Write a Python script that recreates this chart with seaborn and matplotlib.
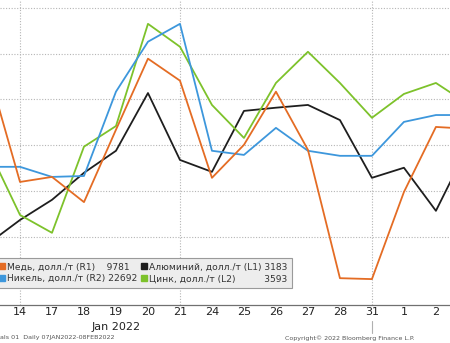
import matplotlib
matplotlib.use("Agg")
import matplotlib.pyplot as plt
import matplotlib.transforms as mtransforms
from matplotlib.lines import Line2D
import seaborn as sns
import pandas as pd
import numpy as np

# ---- data (grid units) ----
day_labels = ['13', '14', '17', '18', '19', '20', '21', '24', '25', '26',
              '27', '28', '31', '1', '2', '3']
copper   = [4.65, 2.20, 2.31, 1.76, 3.34, 4.89, 4.41, 2.29, 3.01, 4.17, 2.90, 0.10, 0.08, 1.98, 3.40, 3.36]
nickel   = [2.53, 2.53, 2.31, 2.33, 4.17, 5.26, 5.65, 2.88, 2.79, 3.38, 2.88, 2.77, 2.77, 3.51, 3.66, 3.66]
zinc     = [2.94, 1.48, 1.09, 2.97, 3.42, 5.65, 5.15, 3.88, 3.16, 4.36, 5.04, 4.36, 3.60, 4.12, 4.36, 3.90]
aluminum = [0.85, 1.37, 1.81, 2.40, 2.88, 4.14, 2.68, 2.42, 3.75, 3.82, 3.88, 3.55, 2.29, 2.51, 1.57, 2.97]

visible_days = ['14', '17', '18', '19', '20', '21', '24', '25', '26', '27', '28', '31', '1', '2']
series_names = ['Медь', 'Никель', 'Алюминий', 'Цинк']
legend_labels = ['Медь, долл./т (R1)    9781',
                 'Никель, долл./т (R2) 22692',
                 'Алюминий, долл./т (L1) 3183',
                 'Цинк, долл./т (L2)          3593']
grid_days = ['14', '21', '31']
month_label = 'Jan 2022'
footer_left = 'als 01  Daily 07JAN2022-08FEB2022'
footer_right = 'Copyright© 2022 Bloomberg Finance L.P.'

colors = {'Медь': '#E46C24', 'Никель': '#3D97DC', 'Алюминий': '#1E1E1E', 'Цинк': '#7DC22B'}

sns.set_theme(style='white')
plt.rcParams['font.family'] = ['DejaVu Sans']

rows = []
for name, vals in zip(series_names, [copper, nickel, aluminum, zinc]):
    for i, v in enumerate(vals):
        rows.append({'pos': i, 'value': v, 'metal': name})
df = pd.DataFrame(rows)

fig = plt.figure(figsize=(4.5, 3.43), dpi=100)
ax = fig.add_axes([0, 38 / 343, 1, 305 / 343])

sns.lineplot(data=df, x='pos', y='value', hue='metal', palette=colors,
             hue_order=['Алюминий', 'Цинк', 'Никель', 'Медь'],
             linewidth=1.3, legend=False, ax=ax, sort=False)

tick_pos = [day_labels.index(d) for d in visible_days]
ax.set_xticks(tick_pos)
ax.set_xticklabels(visible_days, fontsize=8, color='#222222')
ax.tick_params(axis='x', length=0, pad=1.5)
ax.set_yticks([1, 2, 3, 4, 5, 6])
ax.set_yticklabels([])
ax.tick_params(axis='y', length=0)
ax.set_xlim(0.375, 14.44)
ax.set_ylim(-0.485, 6.17)
ax.grid(axis='y', linestyle=(0, (1, 1.5)), color='#b5b5b5', linewidth=0.8)
for d in grid_days:
    ax.axvline(day_labels.index(d), linestyle=(0, (1, 1.5)), color='#b5b5b5',
               linewidth=0.8, zorder=0)
ax.set_xlabel('')
ax.set_ylabel('')
for s in ['top', 'left', 'right']:
    ax.spines[s].set_visible(False)
ax.spines['bottom'].set_color('#707070')
ax.spines['bottom'].set_linewidth(0.9)

# month label and month separator
trans = mtransforms.blended_transform_factory(ax.transData, fig.transFigure)
ax.text(day_labels.index('19'), 1 - 327 / 343, month_label, transform=trans,
        ha='center', va='center', fontsize=8, color='#222222')
ax.add_line(Line2D([day_labels.index('31')] * 2, [1 - 321 / 343, 1 - 333 / 343],
                   transform=trans, color='#b0b0b0', linewidth=0.8, clip_on=False))

# legend
handles = [Line2D([], [], linestyle='none', marker='s', markersize=4.5,
                  markerfacecolor=colors[n], markeredgecolor=colors[n])
           for n in series_names]
leg = fig.legend(handles, legend_labels, ncol=2, loc='upper left',
                 bbox_to_anchor=(-0.012, 1 - 258 / 343), borderaxespad=0,
                 fontsize=6.6, frameon=True, fancybox=False, framealpha=1,
                 handlelength=0.6, handletextpad=0.2, columnspacing=0.5,
                 labelspacing=0.3, borderpad=0.5)
leg.get_frame().set_facecolor('#ededed')
leg.get_frame().set_edgecolor('#9a9a9a')
leg.get_frame().set_linewidth(0.8)
for t in leg.get_texts():
    t.set_color('#333333')

fig.text(0.0, 1 - 338 / 343, footer_left, fontsize=4.6, color='#555555',
         ha='left', va='center')
fig.text(350 / 450, 1 - 338 / 343, footer_right, fontsize=4.5, color='#555555',
         ha='center', va='center')

fig.savefig('out.png', dpi=100)
